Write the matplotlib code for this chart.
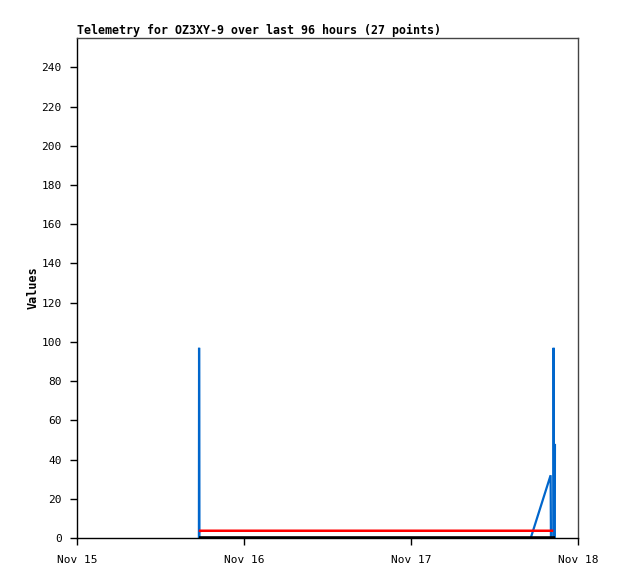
#!/usr/bin/env python3
# -*- coding: utf-8 -*-

import datetime
import matplotlib
matplotlib.use("Agg")
import matplotlib.pyplot as plt

START = datetime.datetime(2023, 11, 15)


def t(days):
    return START + datetime.timedelta(days=days)


# telemetry channels, time in days after Nov 15 00:00
blue_days = [0.730, 0.731, 0.733, 2.717, 2.836, 2.838, 2.853, 2.854, 2.856, 2.861, 2.862]
blue_vals = [0, 97, 0, 0, 32, 0, 0, 97, 0, 0, 48]

red_days = [0.736, 0.737, 2.852]
red_vals = [3, 3.7, 3.7]

black_days = [0.730, 2.862]
black_vals = [0, 0]

x_ticks = [0, 1, 2, 3]
x_labels = ["Nov 15", "Nov 16", "Nov 17", "Nov 18"]
y_ticks = list(range(0, 241, 20))

mono = "DejaVu Sans Mono"

fig = plt.figure(figsize=(6.18, 5.79), dpi=100)
ax = fig.add_axes([77 / 618, 41 / 579, 501 / 618, 500 / 579])

line_kw = dict(solid_capstyle="butt", solid_joinstyle="miter")
ax.plot([t(d) for d in blue_days], blue_vals, color="#0066cc", lw=1.6, **line_kw)
ax.plot([t(d) for d in red_days], red_vals, color="#ff0000", lw=1.8, **line_kw)
ax.plot([t(d) for d in black_days], black_vals, color="black", lw=2.6, **line_kw)

ax.set_xlim(t(0), t(3))
ax.set_ylim(0, 255)
ax.set_xticks([t(d) for d in x_ticks])
ax.set_xticklabels(x_labels, fontfamily=mono, fontsize=8)
ax.set_yticks(y_ticks)
ax.set_yticklabels([str(v) for v in y_ticks], fontfamily=mono, fontsize=8)
ax.tick_params(axis="both", direction="out", length=5, width=1, color="black")
ax.tick_params(axis="y", pad=6)
ax.tick_params(axis="x", pad=7)

ax.spines["top"].set_color("#444444")
ax.spines["right"].set_color("#444444")
ax.spines["left"].set_color("black")
ax.spines["bottom"].set_color("black")
for s in ax.spines.values():
    s.set_linewidth(1)

ax.set_ylabel("Values", fontfamily=mono, fontweight="bold", fontsize=8.5, labelpad=1)
ax.set_title(
    "Telemetry for OZ3XY-9 over last 96 hours (27 points)",
    fontfamily=mono,
    fontweight="bold",
    fontsize=8.4,
    loc="left",
    pad=3,
)

plt.savefig("out.png", dpi=100)
